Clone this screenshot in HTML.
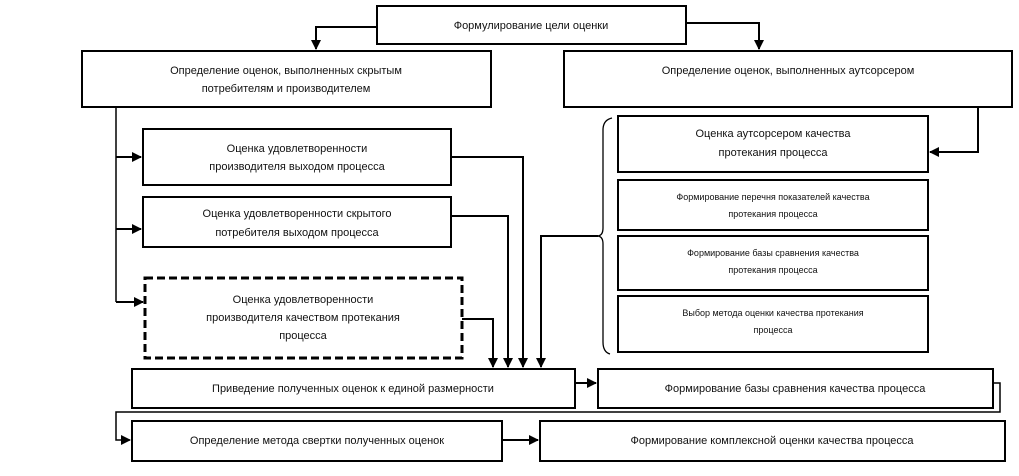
<!DOCTYPE html>
<html><head><meta charset="utf-8"><style>
body{margin:0;background:#fff;}
svg text{font-family:"Liberation Sans",sans-serif;fill:#111;}
</style></head><body>
<svg width="1019" height="471" viewBox="0 0 1019 471" xmlns="http://www.w3.org/2000/svg">
<defs><marker id="a" markerWidth="10" markerHeight="10" refX="9" refY="5" orient="auto" markerUnits="userSpaceOnUse"><path d="M0,0 L10,5 L0,10 Z" fill="#000"/></marker></defs>
<g fill="#fff" stroke="#000" stroke-width="2">
<rect x="377" y="6" width="309" height="38"/>
<rect x="82" y="51" width="409" height="56"/>
<rect x="564" y="51" width="448" height="56"/>
<rect x="143" y="129" width="308" height="56"/>
<rect x="143" y="197" width="308" height="50"/>
<rect x="145" y="278" width="317" height="80" stroke-dasharray="8,4" stroke-width="3"/>
<rect x="618" y="116" width="310" height="56"/>
<rect x="618" y="180" width="310" height="50"/>
<rect x="618" y="236" width="310" height="54"/>
<rect x="618" y="296" width="310" height="56"/>
<rect x="132" y="369" width="443" height="39"/>
<rect x="598" y="369" width="395" height="39"/>
<rect x="132" y="421" width="370" height="40"/>
<rect x="540" y="421" width="465" height="40"/>
</g>
<g fill="none" stroke="#000" stroke-width="2">
<path d="M377,27 H316 V49" marker-end="url(#a)"/>
<path d="M686,23 H759 V49" marker-end="url(#a)"/>
<path d="M116,107 V302" stroke-width="1.5"/>
<path d="M116,157 H141" marker-end="url(#a)"/>
<path d="M116,229 H141" marker-end="url(#a)"/>
<path d="M116,302 H143" marker-end="url(#a)"/>
<path d="M978,107 V152 H930" marker-end="url(#a)"/>
<path d="M462,319 H493 V367" marker-end="url(#a)"/>
<path d="M451,157 H523 V367" marker-end="url(#a)"/>
<path d="M451,216 H508 V367" marker-end="url(#a)"/>
<path d="M598,236 H541 V367" marker-end="url(#a)"/>
<path d="M612,118 Q603,120 603,130 V228 Q603,236 597,236 Q603,236 603,244 V342 Q603,352 610,354" stroke-width="1.3"/>
<path d="M575,383 H596" marker-end="url(#a)"/>
<path d="M993,383 H1000 V412 H116 V440 H130" stroke-width="1.5" marker-end="url(#a)"/>
<path d="M502,440 H538" marker-end="url(#a)"/>
</g>
<g font-size="11" text-anchor="middle">
<text x="531" y="29">Формулирование цели оценки</text>
<text x="286" y="74">Определение оценок, выполненных скрытым</text>
<text x="286" y="92">потребителям и производителем</text>
<text x="788" y="74">Определение оценок, выполненных аутсорсером</text>
<text x="297" y="152">Оценка удовлетворенности</text>
<text x="297" y="170">производителя выходом процесса</text>
<text x="297" y="217">Оценка удовлетворенности скрытого</text>
<text x="297" y="236">потребителя выходом процесса</text>
<text x="303" y="303">Оценка удовлетворенности</text>
<text x="303" y="321">производителя качеством протекания</text>
<text x="303" y="339">процесса</text>
<text x="773" y="137">Оценка аутсорсером качества</text>
<text x="773" y="156">протекания процесса</text>
<text x="353" y="392">Приведение полученных оценок к единой размерности</text>
<text x="795" y="392">Формирование базы сравнения качества процесса</text>
<text x="317" y="444">Определение метода свертки полученных оценок</text>
<text x="772" y="444">Формирование комплексной оценки качества процесса</text>
</g>
<g font-size="9" text-anchor="middle">
<text x="773" y="200">Формирование перечня показателей качества</text>
<text x="773" y="217">протекания процесса</text>
<text x="773" y="256">Формирование базы сравнения качества</text>
<text x="773" y="273">протекания процесса</text>
<text x="773" y="316">Выбор метода оценки качества протекания</text>
<text x="773" y="333">процесса</text>
</g>
</svg>
</body></html>
